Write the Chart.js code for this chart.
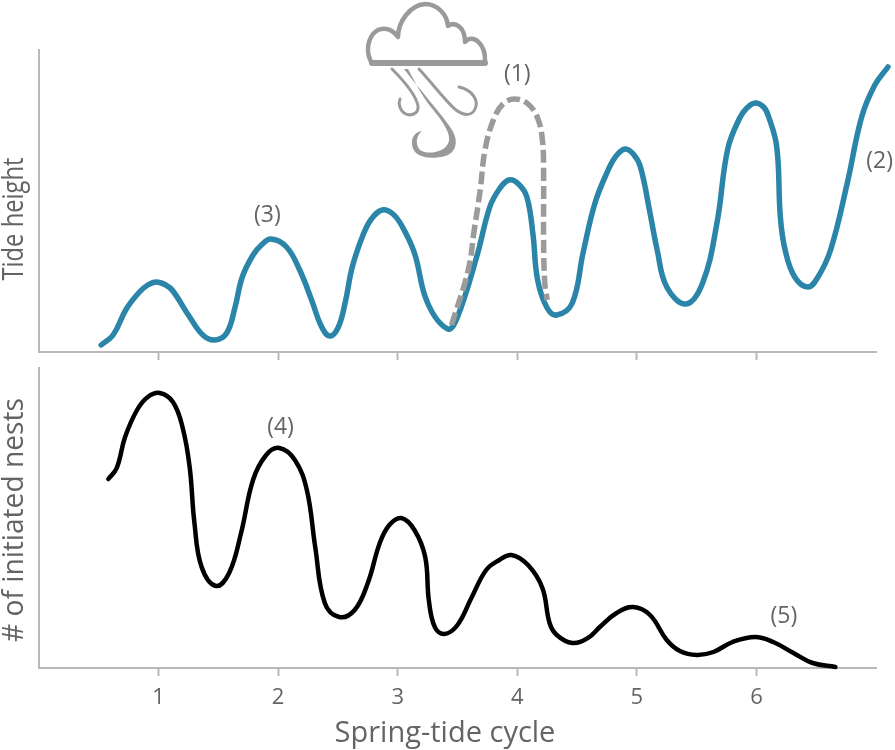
<!DOCTYPE html>
<html lang="en">
<head>
    <meta charset="UTF-8">
    <title>Spring-tide cycle</title>
    <script src="https://cdn.jsdelivr.net/npm/chart.js"></script>
    <style>
        body { margin: 0; background: #fff; }
        .wrap { position: relative; width: 895px; height: 750px; overflow: hidden; }
        canvas, svg { position: absolute; left: 0; top: 0; }
    </style>
</head>
<body>
    <div class="wrap">
        <canvas id="tideChart" width="895" height="750"></canvas>
        <canvas id="nestChart" width="895" height="750"></canvas>
        <!-- storm icon -->
        <svg width="895" height="180" viewBox="0 0 895 180" fill="none" stroke="#9a9a9a" stroke-linecap="round" stroke-linejoin="round">
            <path stroke-width="4.5" d="M372 63 C366 54 367 42 373 34 C379 27 390 26 398 37 C398 22 410 5 425 4 C437 4 447 14 448 26 C455 21 465 27 465 42 C473 33 486 44 485 62"/>
            <path stroke-width="6" d="M372 63 H485"/>
            <path stroke-width="3" d="M392 69 C405 82 416 95 418 106 C419 114 410 117 404 113 C400 110 398 104 400 99"/>
            <path stroke="none" fill="#9a9a9a" d="M404 69 C420 90 445 118 452 130 C460 143 455 156 440 157 C425 160 411 155 412 142 C412 136 416 132 422 131 C416 136 415 144 420 150 C427 155 446 153 449 141 C451 132 440 118 430 106 C422 96 415 82 408 69 Z"/>
            <path stroke-width="3" d="M419 69 C432 83 447 103 456 110 C464 116 472 116 475 109 C479 101 473 90 459 87"/>
        </svg>
    </div>

    <script>
        // cycle ticks
        const cycleTicks = [1, 2, 3, 4, 5, 6];

        // tide height, normal year
        const tideX = [0.52, 0.62, 0.73, 0.84, 0.91, 0.98, 1.06, 1.12, 1.26, 1.37, 1.47, 1.57, 1.64, 1.70, 1.79, 1.86, 1.94, 2.07, 2.18, 2.28, 2.36, 2.43, 2.50, 2.56, 2.62, 2.71, 2.78, 2.87, 2.96, 3.04, 3.14, 3.25, 3.42, 3.50, 3.66, 3.77, 3.85, 3.93, 4.01, 4.08, 4.13, 4.17, 4.25, 4.33, 4.46, 4.55, 4.65, 4.76, 4.82, 4.90, 4.97, 5.03, 5.11, 5.17, 5.25, 5.41, 5.55, 5.67, 5.76, 5.86, 5.92, 5.99, 6.06, 6.10, 6.17, 6.20, 6.24, 6.32, 6.43, 6.51, 6.62, 6.76, 6.88, 6.99, 7.10];
        const tideY = [7, 17, 43, 60, 67, 70, 67, 61, 35, 17, 12, 19, 45, 75, 97, 107, 113, 105, 82, 52, 26, 16, 24, 49, 85, 117, 133, 142, 138, 125, 99, 49, 23, 35, 95, 145, 163, 172, 168, 155, 119, 72, 44, 37, 49, 99, 149, 182, 195, 203, 198, 185, 139, 102, 65, 48, 69, 129, 203, 234, 244, 249, 245, 236, 205, 135, 102, 75, 65, 74, 102, 169, 235, 267, 285];

        // storm surge on cycle 4
        const surgeX = [3.45, 3.59, 3.64, 3.69, 3.73, 3.80, 3.88, 3.98, 4.09, 4.17, 4.21, 4.22, 4.22, 4.23, 4.25];
        const surgeY = [27, 82, 122, 162, 202, 232, 248, 253, 248, 234, 212, 179, 112, 69, 52];

        // initiated nests
        const nestX = [0.58, 0.65, 0.72, 0.82, 0.91, 1.01, 1.12, 1.20, 1.26, 1.30, 1.36, 1.48, 1.59, 1.69, 1.79, 1.90, 2.01, 2.14, 2.24, 2.31, 2.39, 2.51, 2.64, 2.75, 2.85, 2.93, 3.03, 3.14, 3.23, 3.26, 3.31, 3.39, 3.50, 3.62, 3.74, 3.85, 3.95, 4.09, 4.21, 4.27, 4.33, 4.46, 4.59, 4.69, 4.83, 4.97, 5.11, 5.25, 5.36, 5.50, 5.64, 5.80, 5.99, 6.14, 6.31, 6.47, 6.66];
        const nestY = [189, 200, 231, 258, 271, 275, 266, 241, 201, 145, 101, 82, 95, 135, 188, 213, 220, 208, 178, 121, 65, 51, 58, 85, 125, 143, 150, 138, 111, 68, 41, 34, 43, 71, 98, 108, 113, 103, 80, 45, 33, 25, 30, 41, 55, 61, 53, 28, 17, 13, 16, 26, 31, 26, 15, 5, 1];

        // numbered notes
        const tideNotes = ['(1)', '(2)', '(3)'];
        const tideNoteX = [4.0, 7.03, 1.91];
        const tideNoteY = [278, 191, 137];
        const nestNotes = ['(4)', '(5)'];
        const nestNoteX = [2.02, 6.23];
        const nestNoteY = [241, 52];

        const FONT = '"Open Sans", sans-serif';
        const AXIS_GREY = '#b9b9b9';
        const TEXT_GREY = '#646464';

        function toPoints(xs, ys) {
            return xs.map((x, i) => ({ x: x, y: ys[i] }));
        }

        function lineSet(xs, ys, color, width, dash) {
            return {
                data: toPoints(xs, ys),
                borderColor: color,
                borderWidth: width,
                borderDash: dash || [],
                borderCapStyle: dash ? 'butt' : 'round',
                pointRadius: 0,
                showLine: true,
                tension: 0.4,
                clip: false
            };
        }

        // notes and axis titles
        function textPlugin(notes, noteX, noteY, titles) {
            return {
                id: 'textLabels',
                afterDatasetsDraw(chart) {
                    const ctx = chart.ctx;
                    ctx.save();
                    ctx.textAlign = 'center';
                    ctx.textBaseline = 'middle';
                    ctx.fillStyle = TEXT_GREY;
                    ctx.font = '23px ' + FONT;
                    notes.forEach((t, i) => {
                        ctx.fillText(t, chart.scales.x.getPixelForValue(noteX[i]), chart.scales.y.getPixelForValue(noteY[i]));
                    });
                    ctx.font = '29px ' + FONT;
                    titles.forEach(t => {
                        ctx.save();
                        ctx.translate(t.x, t.y);
                        ctx.rotate(t.rot);
                        ctx.fillText(t.text, 0, 0, t.fit);
                        ctx.restore();
                    });
                    ctx.restore();
                }
            };
        }

        function makeChart(id, datasets, yMax, areaTop, areaBottom, showLabels, plugin) {
            return new Chart(document.getElementById(id), {
                type: 'scatter',
                data: { datasets: datasets },
                options: {
                    responsive: false,
                    animation: false,
                    layout: { padding: { left: 39, right: 19, top: areaTop, bottom: 750 - areaBottom - 50 } },
                    plugins: { legend: { display: false }, tooltip: { enabled: false } },
                    scales: {
                        x: {
                            type: 'linear',
                            min: 0,
                            max: 7,
                            afterBuildTicks: s => { s.ticks = cycleTicks.map(v => ({ value: v })); },
                            afterFit: s => { s.height = 50; },
                            grid: { drawOnChartArea: false, color: AXIS_GREY, tickLength: 8, tickWidth: 2 },
                            border: { color: AXIS_GREY, width: 2 },
                            ticks: { display: showLabels, color: TEXT_GREY, padding: 9, maxRotation: 0, font: { family: 'Open Sans', size: 22 } }
                        },
                        y: {
                            min: 0,
                            max: yMax,
                            afterFit: s => { s.width = 0; },
                            grid: { display: false },
                            border: { color: AXIS_GREY, width: 2 },
                            ticks: { display: false }
                        }
                    }
                },
                plugins: [plugin]
            });
        }

        window.onload = function () {
            makeChart('tideChart', [
                lineSet(surgeX, surgeY, '#9b9b9b', 5.5, [13, 5]),
                lineSet(tideX, tideY, '#2b85a8', 5.5)
            ], 302, 50, 352, false, textPlugin(tideNotes, tideNoteX, tideNoteY, [
                { text: 'Tide height', x: 15, y: 219, rot: -Math.PI / 2, fit: 123 }
            ]));

            makeChart('nestChart', [
                lineSet(nestX, nestY, '#000000', 4.5)
            ], 300, 368, 668, true, textPlugin(nestNotes, nestNoteX, nestNoteY, [
                { text: '# of initiated nests', x: 15, y: 520, rot: -Math.PI / 2, fit: 244 },
                { text: 'Spring-tide cycle', x: 445, y: 734, rot: 0, fit: 224 }
            ]));
        };
    </script>
</body>
</html>
